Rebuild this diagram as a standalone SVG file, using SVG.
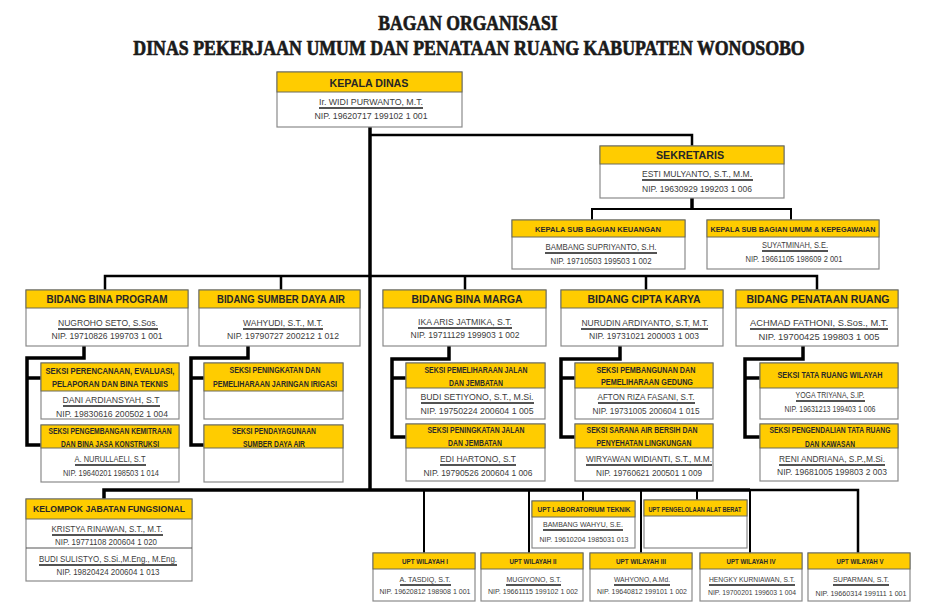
<svg xmlns="http://www.w3.org/2000/svg" width="936" height="612" viewBox="0 0 936 612">
<style>
.bg{fill:#fff}
.box{fill:#fff;stroke:#8a8a8a;stroke-width:1.2}
.hd{fill:#FFCC00;stroke:#6a6a5a;stroke-width:1}
.ttl{font-family:"Liberation Serif","DejaVu Serif",serif;font-weight:bold;font-size:22px;fill:#1a1a1a;stroke:#1a1a1a;stroke-width:0.7;text-anchor:middle}
.h1{font-family:"Liberation Sans",Arial,sans-serif;font-weight:bold;font-size:10.7px;fill:#262626;text-anchor:middle}
.h2{font-family:"Liberation Sans",Arial,sans-serif;font-weight:bold;font-size:10px;fill:#262626;text-anchor:middle}
.h3{font-family:"Liberation Sans Narrow","Liberation Sans",Arial,sans-serif;font-weight:bold;font-size:8.5px;fill:#2a2a2a;text-anchor:middle}
.h4{font-family:"Liberation Sans Narrow","Liberation Sans",Arial,sans-serif;font-weight:bold;font-size:8px;fill:#2a2a2a;text-anchor:middle}
.h5{font-family:"Liberation Sans",Arial,sans-serif;font-weight:bold;font-size:8.8px;fill:#262626;text-anchor:middle}
.t{font-family:"Liberation Sans",Arial,sans-serif;font-size:8.5px;fill:#3c3c3c;text-anchor:middle}
.ts{font-family:"Liberation Sans",Arial,sans-serif;font-size:7.5px;fill:#3c3c3c;text-anchor:middle}
.tx{font-family:"Liberation Sans",Arial,sans-serif;font-size:6.5px;fill:#3c3c3c;text-anchor:middle}
.ul{stroke:#1a1a1a;stroke-width:1.3}
.ln{fill:none;stroke:#000;stroke-width:2.5}
.lt{fill:none;stroke:#000;stroke-width:3.5}
.lh{fill:none;stroke:#000;stroke-width:2}
</style>
<rect class="bg" x="0" y="0" width="936" height="612"/>
<g id="title">
<text class="ttl" x="0" y="0" transform="translate(468,30) scale(0.8,1)">BAGAN ORGANISASI</text>
<text class="ttl" x="0" y="0" transform="translate(469,55) scale(0.81,1)">DINAS PEKERJAAN UMUM DAN PENATAAN RUANG KABUPATEN WONOSOBO</text>
</g>
<g id="connectors">
<path class="lt" d="M370 127V490"/>
<path class="ln" d="M370 135H692V146"/>
<path class="lt" d="M692 198V209"/>
<path class="lh" d="M592 220V209H791V220"/>
<path class="ln" d="M105 290V276H817V290M281 276V290M465 276V290M646 276V290"/>
<path class="lt" d="M84 346V358H27V445H41M27 378H41"/>
<path class="lt" d="M248 346V358H191V445H204M191 378H204"/>
<path class="lt" d="M449 346V359H392V437H406M392 378H406"/>
<path class="lt" d="M620 346V359H561V437H575M561 378H575"/>
<path class="lt" d="M803 346V359H745V437H760M745 378H760"/>
<path class="lt" d="M104 499V490H750"/>
<path class="ln" d="M750 490H858V553"/>
<path class="lh" d="M424 490V553M529 490V553M583 490V501M641 490V553M697 490V500M750 490V553"/>
</g>
<g id="kepala-dinas">
<rect class="box" x="277" y="72" width="185" height="55"/>
<rect class="hd" x="277" y="72" width="185" height="20"/>
<text class="h1" x="369" y="87">KEPALA DINAS</text>
<text class="t" x="371" y="105" textLength="104" lengthAdjust="spacingAndGlyphs">Ir. WIDI PURWANTO, M.T.</text>
<line class="ul" x1="319" y1="108" x2="423" y2="108"/>
<text class="t" x="371" y="119" textLength="113" lengthAdjust="spacingAndGlyphs">NIP. 19620717 199102 1 001</text>
</g>
<g id="sekretaris">
<rect class="box" x="600" y="146" width="184" height="52"/>
<rect class="hd" x="600" y="146" width="184" height="18"/>
<text class="h1" x="690" y="159">SEKRETARIS</text>
<text class="t" x="697" y="177" textLength="110" lengthAdjust="spacingAndGlyphs">ESTI MULYANTO, S.T., M.M.</text>
<line class="ul" x1="642" y1="180" x2="753" y2="180"/>
<text class="t" x="697" y="192" textLength="110" lengthAdjust="spacingAndGlyphs">NIP. 19630929 199203 1 006</text>
</g>
<g id="kasubag-keuangan">
<rect class="box" x="512" y="220" width="173" height="49"/>
<rect class="hd" x="512" y="220" width="173" height="17"/>
<text class="h4" x="598" y="232" textLength="126" lengthAdjust="spacingAndGlyphs">KEPALA SUB BAGIAN KEUANGAN</text>
<text class="t" x="601" y="250" textLength="111" lengthAdjust="spacingAndGlyphs">BAMBANG SUPRIYANTO, S.H.</text>
<line class="ul" x1="545" y1="253" x2="657" y2="253"/>
<text class="t" x="601" y="264" textLength="101" lengthAdjust="spacingAndGlyphs">NIP. 19710503 199503 1 002</text>
</g>
<g id="kasubag-umum">
<rect class="box" x="707" y="220" width="172" height="49"/>
<rect class="hd" x="707" y="220" width="172" height="17"/>
<text class="h4" x="793" y="232" textLength="165" lengthAdjust="spacingAndGlyphs">KEPALA SUB BAGIAN UMUM &amp; KEPEGAWAIAN</text>
<text class="t" x="795" y="248" textLength="66" lengthAdjust="spacingAndGlyphs">SUYATMINAH, S.E.</text>
<line class="ul" x1="762" y1="251" x2="828" y2="251"/>
<text class="t" x="794" y="262" textLength="97" lengthAdjust="spacingAndGlyphs">NIP. 19661105 198609 2 001</text>
</g>
<g id="bidang-bina-program">
<rect class="box" x="26" y="290" width="162" height="56"/>
<rect class="hd" x="26" y="290" width="162" height="18"/>
<text class="h2" x="107" y="303" textLength="121" lengthAdjust="spacingAndGlyphs">BIDANG BINA PROGRAM</text>
<text class="t" x="108" y="326" textLength="100" lengthAdjust="spacingAndGlyphs">NUGROHO SETO, S.Sos.</text>
<line class="ul" x1="58" y1="329" x2="158" y2="329"/>
<text class="t" x="107" y="339" textLength="111" lengthAdjust="spacingAndGlyphs">NIP. 19710826 199703 1 001</text>
</g>
<g id="bidang-sda">
<rect class="box" x="199" y="290" width="161" height="56"/>
<rect class="hd" x="199" y="290" width="161" height="18"/>
<text class="h2" x="281" y="303" textLength="128" lengthAdjust="spacingAndGlyphs">BIDANG SUMBER DAYA AIR</text>
<text class="t" x="283" y="326" textLength="80" lengthAdjust="spacingAndGlyphs">WAHYUDI, S.T., M.T.</text>
<line class="ul" x1="243" y1="329" x2="323" y2="329"/>
<text class="t" x="283" y="339" textLength="112" lengthAdjust="spacingAndGlyphs">NIP. 19790727 200212 1 012</text>
</g>
<g id="bidang-bina-marga">
<rect class="box" x="383" y="290" width="163" height="56"/>
<rect class="hd" x="383" y="290" width="163" height="18"/>
<text class="h2" x="467" y="303" textLength="111" lengthAdjust="spacingAndGlyphs">BIDANG BINA MARGA</text>
<text class="t" x="465" y="325" textLength="94" lengthAdjust="spacingAndGlyphs">IKA ARIS JATMIKA, S.T.</text>
<line class="ul" x1="418" y1="328" x2="512" y2="328"/>
<text class="t" x="465" y="338" textLength="109" lengthAdjust="spacingAndGlyphs">NIP. 19711129 199903 1 002</text>
</g>
<g id="bidang-cipta-karya">
<rect class="box" x="561" y="290" width="162" height="56"/>
<rect class="hd" x="561" y="290" width="162" height="18"/>
<text class="h2" x="644" y="303" textLength="113" lengthAdjust="spacingAndGlyphs">BIDANG CIPTA KARYA</text>
<text class="t" x="645" y="326" textLength="127" lengthAdjust="spacingAndGlyphs">NURUDIN ARDIYANTO, S.T, M.T.</text>
<line class="ul" x1="581" y1="329" x2="708" y2="329"/>
<text class="t" x="644" y="339" textLength="110" lengthAdjust="spacingAndGlyphs">NIP. 19731021 200003 1 003</text>
</g>
<g id="bidang-penataan-ruang">
<rect class="box" x="736" y="290" width="162" height="56"/>
<rect class="hd" x="736" y="290" width="162" height="18"/>
<text class="h2" x="818" y="303" textLength="143" lengthAdjust="spacingAndGlyphs">BIDANG PENATAAN RUANG</text>
<text class="t" x="819" y="326" textLength="138" lengthAdjust="spacingAndGlyphs">ACHMAD FATHONI, S.Sos., M.T.</text>
<line class="ul" x1="750" y1="329" x2="888" y2="329"/>
<text class="t" x="819" y="340" textLength="121" lengthAdjust="spacingAndGlyphs">NIP. 19700425 199803 1 005</text>
</g>
<g id="seksi-perencanaan">
<rect class="box" x="41" y="363" width="138" height="56"/>
<rect class="hd" x="41" y="363" width="138" height="28"/>
<text class="h3" x="110" y="374" textLength="129" lengthAdjust="spacingAndGlyphs">SEKSI PERENCANAAN, EVALUASI,</text>
<text class="h3" x="110" y="387" textLength="116" lengthAdjust="spacingAndGlyphs">PELAPORAN DAN BINA TEKNIS</text>
<text class="t" x="111" y="403" textLength="97" lengthAdjust="spacingAndGlyphs">DANI ARDIANSYAH, S.T</text>
<line class="ul" x1="63" y1="406" x2="160" y2="406"/>
<text class="t" x="112" y="417" textLength="112" lengthAdjust="spacingAndGlyphs">NIP. 19830616 200502 1 004</text>
</g>
<g id="seksi-kemitraan">
<rect class="box" x="41" y="425" width="138" height="57"/>
<rect class="hd" x="41" y="425" width="138" height="23"/>
<text class="h3" x="110" y="434" textLength="123" lengthAdjust="spacingAndGlyphs">SEKSI PENGEMBANGAN KEMITRAAN</text>
<text class="h3" x="110" y="447" textLength="98" lengthAdjust="spacingAndGlyphs">DAN BINA JASA KONSTRUKSI</text>
<text class="t" x="110" y="462" textLength="71" lengthAdjust="spacingAndGlyphs">A. NURULLAELI, S.T</text>
<line class="ul" x1="75" y1="465" x2="146" y2="465"/>
<text class="t" x="111" y="476" textLength="96" lengthAdjust="spacingAndGlyphs">NIP. 19640201 198503 1 014</text>
</g>
<g id="seksi-irigasi">
<rect class="box" x="204" y="363" width="139" height="56"/>
<rect class="hd" x="204" y="363" width="139" height="28"/>
<text class="h3" x="275" y="373" textLength="91" lengthAdjust="spacingAndGlyphs">SEKSI PENINGKATAN DAN</text>
<text class="h3" x="275" y="387" textLength="124" lengthAdjust="spacingAndGlyphs">PEMELIHARAAN JARINGAN IRIGASI</text>
</g>
<g id="seksi-pendayagunaan">
<rect class="box" x="204" y="425" width="139" height="57"/>
<rect class="hd" x="204" y="425" width="139" height="23"/>
<text class="h3" x="274" y="434" textLength="84" lengthAdjust="spacingAndGlyphs">SEKSI PENDAYAGUNAAN</text>
<text class="h3" x="274" y="447" textLength="62" lengthAdjust="spacingAndGlyphs">SUMBER DAYA AIR</text>
</g>
<g id="seksi-pemeliharaan-jalan">
<rect class="box" x="406" y="363" width="139" height="56"/>
<rect class="hd" x="406" y="363" width="139" height="25"/>
<text class="h3" x="476" y="373" textLength="103" lengthAdjust="spacingAndGlyphs">SEKSI PEMELIHARAAN JALAN</text>
<text class="h3" x="476" y="386" textLength="54" lengthAdjust="spacingAndGlyphs">DAN JEMBATAN</text>
<text class="t" x="477" y="400" textLength="113" lengthAdjust="spacingAndGlyphs">BUDI SETIYONO, S.T., M.Si.</text>
<line class="ul" x1="421" y1="403" x2="534" y2="403"/>
<text class="t" x="477" y="414" textLength="113" lengthAdjust="spacingAndGlyphs">NIP. 19750224 200604 1 005</text>
</g>
<g id="seksi-peningkatan-jalan">
<rect class="box" x="406" y="424" width="139" height="57"/>
<rect class="hd" x="406" y="424" width="139" height="24"/>
<text class="h3" x="476" y="433" textLength="97" lengthAdjust="spacingAndGlyphs">SEKSI PENINGKATAN JALAN</text>
<text class="h3" x="475" y="446" textLength="54" lengthAdjust="spacingAndGlyphs">DAN JEMBATAN</text>
<text class="t" x="478" y="462" textLength="76" lengthAdjust="spacingAndGlyphs">EDI HARTONO, S.T</text>
<line class="ul" x1="440" y1="465" x2="516" y2="465"/>
<text class="t" x="478" y="476" textLength="109" lengthAdjust="spacingAndGlyphs">NIP. 19790526 200604 1 006</text>
</g>
<g id="seksi-gedung">
<rect class="box" x="575" y="363" width="138" height="56"/>
<rect class="hd" x="575" y="363" width="138" height="25"/>
<text class="h3" x="646" y="373" textLength="99" lengthAdjust="spacingAndGlyphs">SEKSI PEMBANGUNAN DAN</text>
<text class="h3" x="647" y="385" textLength="92" lengthAdjust="spacingAndGlyphs">PEMELIHARAAN GEDUNG</text>
<text class="t" x="646" y="400" textLength="97" lengthAdjust="spacingAndGlyphs">AFTON RIZA FASANI, S.T.</text>
<line class="ul" x1="598" y1="403" x2="695" y2="403"/>
<text class="t" x="646" y="414" textLength="107" lengthAdjust="spacingAndGlyphs">NIP. 19731005 200604 1 015</text>
</g>
<g id="seksi-air-bersih">
<rect class="box" x="575" y="424" width="138" height="57"/>
<rect class="hd" x="575" y="424" width="138" height="24"/>
<text class="h3" x="642" y="433" textLength="111" lengthAdjust="spacingAndGlyphs">SEKSI  SARANA AIR BERSIH DAN</text>
<text class="h3" x="644" y="446" textLength="95" lengthAdjust="spacingAndGlyphs">PENYEHATAN LINGKUNGAN</text>
<text class="t" x="649" y="462" textLength="126" lengthAdjust="spacingAndGlyphs">WIRYAWAN WIDIANTI, S.T., M.M.</text>
<line class="ul" x1="586" y1="465" x2="712" y2="465"/>
<text class="t" x="649" y="476" textLength="106" lengthAdjust="spacingAndGlyphs">NIP. 19760621 200501 1 009</text>
</g>
<g id="seksi-tata-ruang">
<rect class="box" x="760" y="363" width="138" height="56"/>
<rect class="hd" x="760" y="363" width="138" height="25"/>
<text class="h3" x="830" y="378" textLength="105" lengthAdjust="spacingAndGlyphs">SEKSI TATA RUANG WILAYAH</text>
<text class="t" x="830" y="398" textLength="69" lengthAdjust="spacingAndGlyphs">YOGA TRIYANA, S.IP.</text>
<line class="ul" x1="796" y1="401" x2="865" y2="401"/>
<text class="t" x="830" y="412" textLength="91" lengthAdjust="spacingAndGlyphs">NIP. 19631213 199403 1 006</text>
</g>
<g id="seksi-pengendalian">
<rect class="box" x="760" y="424" width="138" height="57"/>
<rect class="hd" x="760" y="424" width="138" height="24"/>
<text class="h3" x="830" y="433" textLength="121" lengthAdjust="spacingAndGlyphs">SEKSI  PENGENDALIAN TATA RUANG</text>
<text class="h3" x="830" y="447" textLength="50" lengthAdjust="spacingAndGlyphs">DAN KAWASAN</text>
<text class="t" x="832" y="462" textLength="106" lengthAdjust="spacingAndGlyphs">RENI ANDRIANA, S.P.,M.Si.</text>
<line class="ul" x1="779" y1="465" x2="885" y2="465"/>
<text class="t" x="832" y="475" textLength="110" lengthAdjust="spacingAndGlyphs">NIP. 19681005 199803 2 003</text>
</g>
<g id="kelompok-jabatan-fungsional">
<rect class="box" x="26" y="499" width="166" height="82"/>
<rect class="hd" x="26" y="499" width="166" height="20"/>
<line x1="26" y1="548" x2="192" y2="548" stroke="#555" stroke-width="1.2"/>
<text class="h5" x="109" y="512" textLength="152" lengthAdjust="spacingAndGlyphs">KELOMPOK JABATAN FUNGSIONAL</text>
<text class="t" x="107" y="532" textLength="111" lengthAdjust="spacingAndGlyphs">KRISTYA RINAWAN, S.T., M.T.</text>
<line class="ul" x1="52" y1="535" x2="163" y2="535"/>
<text class="t" x="106" y="545" textLength="102" lengthAdjust="spacingAndGlyphs">NIP. 19771108 200604 1 020</text>
<text class="t" x="108" y="562" textLength="138" lengthAdjust="spacingAndGlyphs">BUDI SULISTYO, S.Si.,M.Eng., M.Eng.</text>
<line class="ul" x1="39" y1="565" x2="177" y2="565"/>
<text class="t" x="108" y="575" textLength="103" lengthAdjust="spacingAndGlyphs">NIP. 19820424 200604 1 013</text>
</g>
<g id="upt-wilayah-1">
<rect class="box" x="373" y="553" width="102" height="48"/>
<rect class="hd" x="373" y="553" width="102" height="16"/>
<text class="h4" x="425" y="564" textLength="46" lengthAdjust="spacingAndGlyphs">UPT WILAYAH I</text>
<text class="ts" x="425" y="582" textLength="51" lengthAdjust="spacingAndGlyphs">A. TASDIQ, S.T.</text>
<line class="ul" x1="400" y1="585" x2="451" y2="585"/>
<text class="ts" x="425" y="594" textLength="91" lengthAdjust="spacingAndGlyphs">NIP. 19620812 198908 1 001</text>
</g>
<g id="upt-wilayah-2">
<rect class="box" x="481" y="553" width="102" height="48"/>
<rect class="hd" x="481" y="553" width="102" height="16"/>
<text class="h4" x="533" y="564" textLength="47" lengthAdjust="spacingAndGlyphs">UPT WILAYAH II</text>
<text class="ts" x="534" y="582" textLength="55" lengthAdjust="spacingAndGlyphs">MUGIYONO, S.T.</text>
<line class="ul" x1="506" y1="585" x2="561" y2="585"/>
<text class="ts" x="533" y="594" textLength="90" lengthAdjust="spacingAndGlyphs">NIP. 19661115 199102 1 002</text>
</g>
<g id="upt-wilayah-3">
<rect class="box" x="590" y="553" width="102" height="48"/>
<rect class="hd" x="590" y="553" width="102" height="16"/>
<text class="h4" x="641" y="564" textLength="50" lengthAdjust="spacingAndGlyphs">UPT WILAYAH III</text>
<text class="ts" x="642" y="582" textLength="56" lengthAdjust="spacingAndGlyphs">WAHYONO, A.Md.</text>
<line class="ul" x1="614" y1="585" x2="670" y2="585"/>
<text class="ts" x="642" y="594" textLength="90" lengthAdjust="spacingAndGlyphs">NIP. 19640812 199101 1 002</text>
</g>
<g id="upt-laboratorium-teknik">
<rect class="box" x="532" y="501" width="103" height="47"/>
<rect class="hd" x="532" y="501" width="103" height="16"/>
<text class="h4" x="584" y="512" textLength="93" lengthAdjust="spacingAndGlyphs">UPT LABORATORIUM TEKNIK</text>
<text class="ts" x="583" y="527" textLength="80" lengthAdjust="spacingAndGlyphs">BAMBANG WAHYU, S.E.</text>
<line class="ul" x1="543" y1="530" x2="623" y2="530"/>
<text class="ts" x="584" y="542" textLength="89" lengthAdjust="spacingAndGlyphs">NIP. 19610204 1985031 013</text>
</g>
<g id="upt-pengelolaan-alat-berat">
<rect class="box" x="644" y="500" width="103" height="48"/>
<rect class="hd" x="644" y="500" width="103" height="16"/>
<text class="h4" x="695" y="512" textLength="93" lengthAdjust="spacingAndGlyphs">UPT PENGELOLAAN ALAT BERAT</text>
</g>
<g id="upt-wilayah-4">
<rect class="box" x="700" y="553" width="102" height="48"/>
<rect class="hd" x="700" y="553" width="102" height="16"/>
<text class="h4" x="751" y="564" textLength="49" lengthAdjust="spacingAndGlyphs">UPT WILAYAH IV</text>
<text class="tx" x="752" y="582" textLength="86" lengthAdjust="spacingAndGlyphs">HENGKY KURNIAWAN, S.T.</text>
<line class="ul" x1="709" y1="585" x2="795" y2="585"/>
<text class="tx" x="752" y="595" textLength="88" lengthAdjust="spacingAndGlyphs">NIP. 19700201 199603 1 004</text>
</g>
<g id="upt-wilayah-5">
<rect class="box" x="808" y="553" width="102" height="48"/>
<rect class="hd" x="808" y="553" width="102" height="16"/>
<text class="h4" x="860" y="564" textLength="47" lengthAdjust="spacingAndGlyphs">UPT WILAYAH V</text>
<text class="ts" x="861" y="582" textLength="56" lengthAdjust="spacingAndGlyphs">SUPARMAN, S.T.</text>
<line class="ul" x1="833" y1="585" x2="889" y2="585"/>
<text class="ts" x="861" y="596" textLength="91" lengthAdjust="spacingAndGlyphs">NIP. 19660314 199111 1 001</text>
</g>
</svg>
